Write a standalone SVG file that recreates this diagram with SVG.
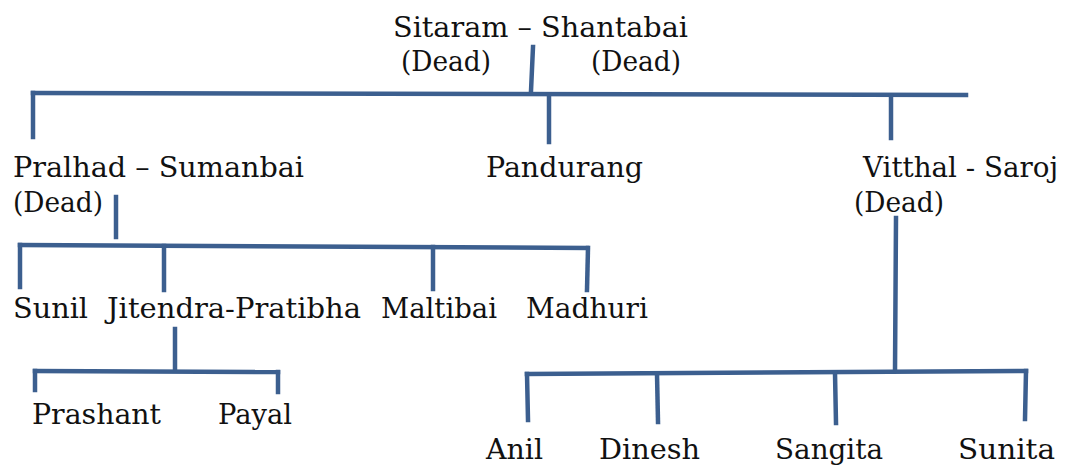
<svg xmlns="http://www.w3.org/2000/svg" width="1077" height="465" viewBox="0 0 1077 465">
<style>
text{font-family:"DejaVu Serif","Liberation Serif",serif;font-size:28px;fill:#111}
.c line{stroke:#3C5F8F;stroke-width:4.5;stroke-linecap:square}
</style>
<rect width="1077" height="465" fill="#fff"/>
<g class="c" id="connectors">
<line x1="533" y1="47" x2="531" y2="91"/>
<line x1="33" y1="93" x2="966" y2="95"/>
<line x1="33" y1="93" x2="33" y2="137"/>
<line x1="549" y1="95" x2="549" y2="142"/>
<line x1="891" y1="96" x2="891" y2="138"/>
<line x1="116" y1="197" x2="116" y2="237"/>
<line x1="20" y1="245" x2="587" y2="248"/>
<line x1="20" y1="245" x2="20" y2="287"/>
<line x1="164" y1="246" x2="164" y2="290"/>
<line x1="433" y1="247" x2="433" y2="289"/>
<line x1="588" y1="248" x2="587" y2="290"/>
<line x1="175" y1="329" x2="175" y2="368"/>
<line x1="35" y1="371" x2="278" y2="372"/>
<line x1="35" y1="371" x2="35" y2="390"/>
<line x1="278" y1="372" x2="278" y2="392"/>
<line x1="896" y1="218" x2="895" y2="371"/>
<line x1="527" y1="374" x2="1026" y2="371"/>
<line x1="527" y1="374" x2="528" y2="420"/>
<line x1="657" y1="374" x2="658" y2="422"/>
<line x1="835" y1="373" x2="836" y2="423"/>
<line x1="1026" y1="371" x2="1025" y2="419"/>
</g>
<g id="sitaram"><text x="393" y="37" textLength="295" lengthAdjust="spacingAndGlyphs">Sitaram – Shantabai</text><text x="401" y="71" textLength="90" lengthAdjust="spacingAndGlyphs">(Dead)</text><text x="591" y="71" textLength="90" lengthAdjust="spacingAndGlyphs">(Dead)</text></g>
<g id="pralhad"><text x="13" y="177" textLength="291" lengthAdjust="spacingAndGlyphs">Pralhad – Sumanbai</text><text x="13" y="212" textLength="90" lengthAdjust="spacingAndGlyphs">(Dead)</text></g>
<g id="pandurang"><text x="486" y="177" textLength="157" lengthAdjust="spacingAndGlyphs">Pandurang</text></g>
<g id="vitthal"><text x="863" y="177" textLength="195" lengthAdjust="spacingAndGlyphs">Vitthal - Saroj</text><text x="854" y="212" textLength="90" lengthAdjust="spacingAndGlyphs">(Dead)</text></g>
<g id="sunil"><text x="13" y="318" textLength="75" lengthAdjust="spacingAndGlyphs">Sunil</text></g>
<g id="jitendra"><text x="107" y="318" textLength="254" lengthAdjust="spacingAndGlyphs">Jitendra-Pratibha</text></g>
<g id="maltibai"><text x="381" y="318" textLength="116" lengthAdjust="spacingAndGlyphs">Maltibai</text></g>
<g id="madhuri"><text x="526" y="318" textLength="122" lengthAdjust="spacingAndGlyphs">Madhuri</text></g>
<g id="prashant"><text x="32" y="424" textLength="129" lengthAdjust="spacingAndGlyphs">Prashant</text></g>
<g id="payal"><text x="218" y="424" textLength="74" lengthAdjust="spacingAndGlyphs">Payal</text></g>
<g id="anil"><text x="486" y="459" textLength="57" lengthAdjust="spacingAndGlyphs">Anil</text></g>
<g id="dinesh"><text x="599" y="459" textLength="101" lengthAdjust="spacingAndGlyphs">Dinesh</text></g>
<g id="sangita"><text x="775" y="459" textLength="108" lengthAdjust="spacingAndGlyphs">Sangita</text></g>
<g id="sunita"><text x="958" y="459" textLength="97" lengthAdjust="spacingAndGlyphs">Sunita</text></g>
</svg>
